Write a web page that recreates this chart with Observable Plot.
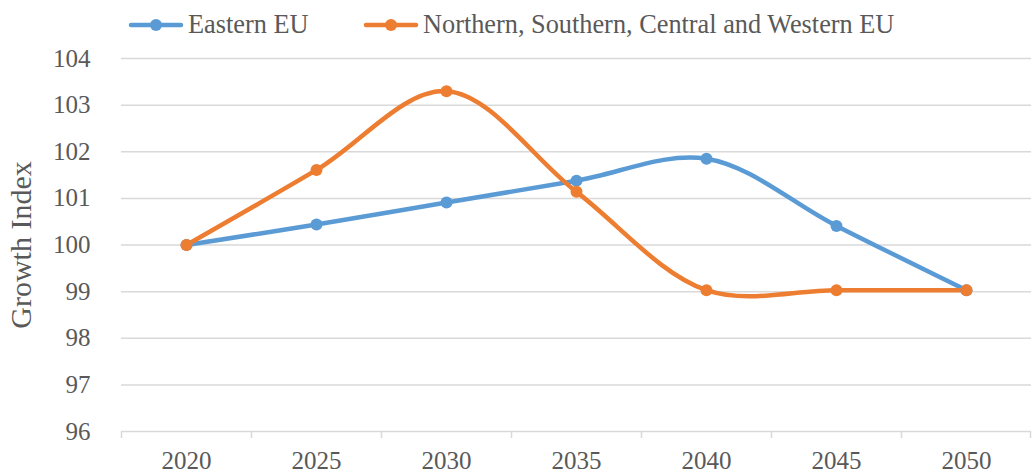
<!DOCTYPE html>
<html>
<head>
<meta charset="utf-8">
<script src="https://cdn.jsdelivr.net/npm/d3@7"></script>
<script src="https://cdn.jsdelivr.net/npm/@observablehq/plot@0.6"></script>
<style>
  html, body { margin: 0; padding: 0; background: #fff; }
  body { width: 1033px; height: 472px; overflow: hidden; font-family: "Liberation Serif", "Times New Roman", serif; }
  #legend { height: 45px; position: relative; }
  .item { position: absolute; top: 10px; display: flex; align-items: center; font-family: "Liberation Serif", serif; font-size: 26.3px; color: #595959; line-height: 30px; }
  .item svg { margin-right: 4px; }
  #chart svg text { font-family: "Liberation Serif", serif; }
</style>
</head>
<body>
<div id="legend"></div>
<div id="chart"></div>
<script>
const years = ["2020", "2025", "2030", "2035", "2040", "2045", "2050"];
const seriesNames = ["Eastern EU", "Northern, Southern, Central and Western EU"];
const easternEU = [100, 100.44, 100.91, 101.38, 101.85, 100.41, 99.03];
const otherEU = [100, 101.61, 103.30, 101.14, 99.03, 99.03, 99.03];
const colors = ["#5B9BD5", "#ED7D31"];
const yTicks = [96, 97, 98, 99, 100, 101, 102, 103, 104];

const data = [];
years.forEach((y, i) => {
  data.push({year: y, value: easternEU[i], series: seriesNames[0]});
  data.push({year: y, value: otherEU[i], series: seriesNames[1]});
});

const W = 1033, H = 427, mL = 121, mR = 2, mT = 13, mB = 41;
const step = (W - mL - mR) / years.length;
const serif = "'Liberation Serif', 'Times New Roman', serif";

const chart = Plot.plot({
  width: W, height: H,
  marginLeft: mL, marginRight: mR, marginTop: mT, marginBottom: mB,
  style: `font-family: ${serif}; font-size: 25px; color: #595959; background: #fff;`,
  x: {type: "point", domain: years, padding: 0.5},
  y: {domain: [96, 104]},
  color: {domain: seriesNames, range: colors},
  marks: [
    Plot.ruleY(yTicks, {stroke: "#d9d9d9", strokeWidth: 1.5}),
    Plot.ruleX(years, {y1: 96, y2: 96, insetBottom: -7, dx: -step / 2, stroke: "#d9d9d9", strokeWidth: 1.5}),
    Plot.ruleX([years[years.length - 1]], {y1: 96, y2: 96, insetBottom: -7, dx: step / 2 - 1, stroke: "#d9d9d9", strokeWidth: 1.5}),
    Plot.axisY({ticks: yTicks, tickSize: 0, tickPadding: 31, label: null, fill: "#595959", fontFamily: serif, fontSize: 25}),
    Plot.axisY({ticks: [], tickSize: 0, label: "Growth Index", labelArrow: "none", labelAnchor: "center", labelOffset: 112, fill: "#595959", fontFamily: serif, fontSize: 30}),
    Plot.axisX({tickSize: 0, tickPadding: 20, label: null, fill: "#595959", fontFamily: serif, fontSize: 25}),
    Plot.line(data, {x: "year", y: "value", z: "series", stroke: "series", strokeWidth: 4.5, curve: "catmull-rom"}),
    Plot.dot(data, {x: "year", y: "value", fill: "series", r: 6})
  ]
});
document.getElementById("chart").appendChild(chart);

// legend
const legend = document.getElementById("legend");
const lefts = [128, 363];
seriesNames.forEach((name, i) => {
  const div = document.createElement("div");
  div.className = "item";
  div.style.left = lefts[i] + "px";
  div.innerHTML = `<svg width="56" height="14"><line x1="3" y1="7" x2="53" y2="7" stroke="${colors[i]}" stroke-width="4.5" stroke-linecap="round"/><circle cx="28" cy="7" r="6" fill="${colors[i]}"/></svg><span>${name}</span>`;
  legend.appendChild(div);
});
</script>
</body>
</html>
